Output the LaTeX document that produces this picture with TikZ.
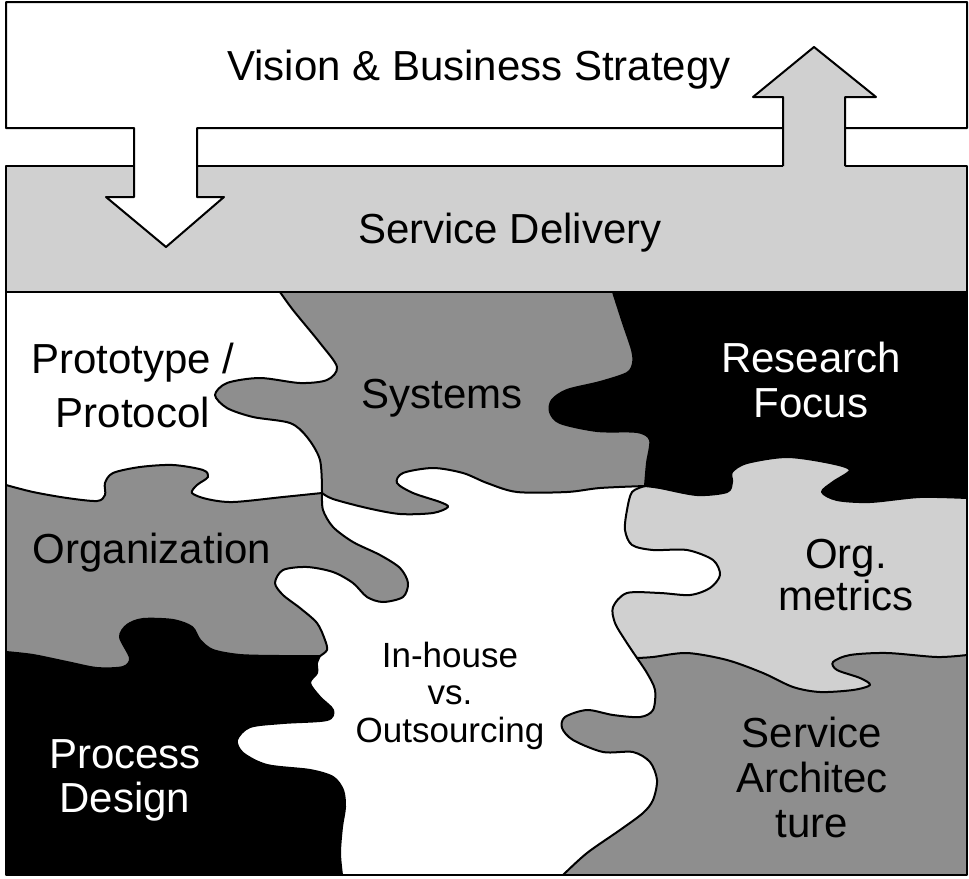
\documentclass[tikz,border=0pt]{standalone}
\usepackage{fontspec}
\setmainfont{Liberation Sans}
\usepackage{tikz}

\definecolor{midgray}{RGB}{142,142,142}
\definecolor{palegray}{RGB}{208,208,208}

\tikzset{
  outline/.style={draw=black, line width=2pt, line join=round},
  seam/.style={draw=black, line width=2pt, line cap=round, line join=round},
  piecetext/.style={font=\fontsize{42}{#1}\selectfont, inner sep=0pt, align=center, anchor=base},
  smalltext/.style={font=\fontsize{35}{#1}\selectfont, inner sep=0pt, align=center, anchor=base},
}

% seams between the puzzle pieces, each one runs on from the point before it
\newcommand{\seamPS}{-- plot[smooth] coordinates {(280,292) (293,310) (320,343) (337,367) (327,380) (300,383) (260,378) (227,383) (215,395) (227,408) (253,417) (290,423) (307,437) (320,460) (322,493)}}
\newcommand{\seamPO}{-- plot[smooth] coordinates {(6,485) (33,492) (67,498) (97,501) (105,495) (105,483) (113,473) (140,467) (173,465) (203,470) (208,477) (197,485) (192,493) (207,499) (233,502) (283,497) (322,493)}}
\newcommand{\seamOI}{-- plot[smooth] coordinates {(322,493) (323,510) (333,527) (353,542) (380,555) (400,568) (408,583) (403,597) (383,602) (367,597) (353,583) (333,572) (307,567) (283,570) (275,583) (283,595) (300,608) (317,623) (325,640) (327,650) (320,656)}}
\newcommand{\seamOP}{-- plot[smooth] coordinates {(6,652) (33,655) (67,662) (97,668) (123,667) (130,658) (120,637) (127,625) (143,619) (173,620) (192,627) (200,640) (213,650) (240,655) (280,656) (320,656)}}
\newcommand{\seamPI}{-- plot[smooth] coordinates {(320,656) (317,663) (317,673) (310,683) (320,697) (333,710) (327,720) (283,723) (250,727) (237,740) (243,753) (267,765) (310,770) (333,777) (343,790) (345,807) (342,827) (340,853) (342,875)}}
\newcommand{\seamSI}{-- plot[smooth] coordinates {(322,493) (333,499) (367,508) (400,514) (433,513) (448,507) (440,502) (413,493) (397,483) (403,473) (433,468) (463,473) (487,483) (517,492) (567,492) (600,488) (645,486)}}
\newcommand{\seamSR}{-- plot[smooth] coordinates {(613,292) (623,323) (632,350) (633,363) (627,373) (600,382) (567,390) (552,400) (550,412) (560,423) (597,431) (637,432) (650,440) (647,463) (645,486)}}
\newcommand{\seamRO}{-- plot[smooth] coordinates {(645,486) (660,488) (697,495) (727,492) (732,482) (732,472) (747,463) (787,457) (830,463) (850,470) (833,482) (822,492) (837,500) (870,502) (920,497) (967,498)}}
\newcommand{\seamIM}{-- plot[smooth] coordinates {(645,486) (632,492) (627,510) (625,530) (632,545) (653,550) (687,550) (713,560) (720,575) (710,588) (690,595) (660,593) (627,593) (613,607) (615,623) (625,640) (637,658)}}
\newcommand{\seamMA}{-- plot[smooth] coordinates {(637,658) (653,657) (687,653) (727,660) (763,673) (793,687) (820,692) (853,690) (870,685) (860,678) (837,670) (833,662) (850,655) (887,653) (937,657) (967,655)}}
\newcommand{\seamIA}{-- plot[smooth] coordinates {(637,658) (647,673) (655,690) (653,710) (640,717) (613,715) (587,710) (565,717) (562,728) (573,740) (603,752) (633,752) (650,762) (657,780) (653,800) (643,813) (620,830) (587,853) (563,875)}}

\begin{document}
\begin{tikzpicture}[x=1pt, y=-1pt]
  \useasboundingbox (0,0) rectangle (969,878);

  % service delivery band
  \filldraw[fill=palegray, outline] (6,166) rectangle (967,292);

  % puzzle pieces, painted back to front
  \fill[white] (6,292) rectangle (967,875);
  \fill[midgray] (637,658) \seamIA -- (967,875) -- (967,620) -- cycle;
  \fill[palegray] (645,486) \seamIM \seamMA -- (967,400) -- (645,400) -- cycle;
  \fill[midgray] (280,292) \seamPS \seamSI -- (700,480) -- (700,292) -- cycle;
  \fill[black] (613,292) \seamSR \seamRO -- (967,292) -- cycle;
  \fill[midgray] (6,485) \seamPO \seamOI -- (295,690) -- (6,690) -- cycle;
  \fill[black] (6,652) \seamOP \seamPI -- (6,875) -- cycle;

  \draw[seam] (280,292) \seamPS;
  \draw[seam] (6,485) \seamPO;
  \draw[seam] (322,493) \seamOI;
  \draw[seam] (6,652) \seamOP;
  \draw[seam] (320,656) \seamPI;
  \draw[seam] (322,493) \seamSI;
  \draw[seam] (613,292) \seamSR;
  \draw[seam] (645,486) \seamRO;
  \draw[seam] (645,486) \seamIM;
  \draw[seam] (637,658) \seamMA;
  \draw[seam] (637,658) \seamIA;
  \draw[outline] (6,292) rectangle (967,875);

  % vision box with the arrow going down
  \filldraw[fill=white, outline] (6,2) -- (967,2) -- (967,128) -- (197,128) -- (197,197)
    -- (224,197) -- (166,247) -- (106,197) -- (134,197) -- (134,128) -- (6,128) -- cycle;

  % arrow going up
  \fill[palegray] (783,168) -- (783,97) -- (753,97) -- (814,47) -- (876,97) -- (845,97) -- (845,168) -- cycle;
  \draw[outline] (783,166) -- (783,97) -- (753,97) -- (814,47) -- (876,97) -- (845,97) -- (845,166);

  % labels (base = baseline of the last line)
  \node[piecetext=54] (vision) at (479,80) {Vision \& Business Strategy};
  \node[piecetext=54] (delivery) at (510,243) {Service Delivery};
  \node[piecetext=54] (proto) at (133,427) {Prototype /\\Protocol};
  \node[piecetext=54] (systems) at (442,408) {Systems};
  \node[piecetext=45, text=white] (research) at (811,417) {Research\\Focus};
  \node[piecetext=54] (organization) at (152,563) {Organization};
  \node[piecetext=42] (orgmetrics) at (846,610) {Org.\\metrics};
  \node[smalltext=37.5] (inhouse) at (450,742) {In-house\\vs.\\Outsourcing};
  \node[piecetext=44, text=white] (process) at (125,812) {Process\\Design};
  \node[piecetext=45] (servarch) at (812,837) {Service\\Architec\\ture};
\end{tikzpicture}
\end{document}
